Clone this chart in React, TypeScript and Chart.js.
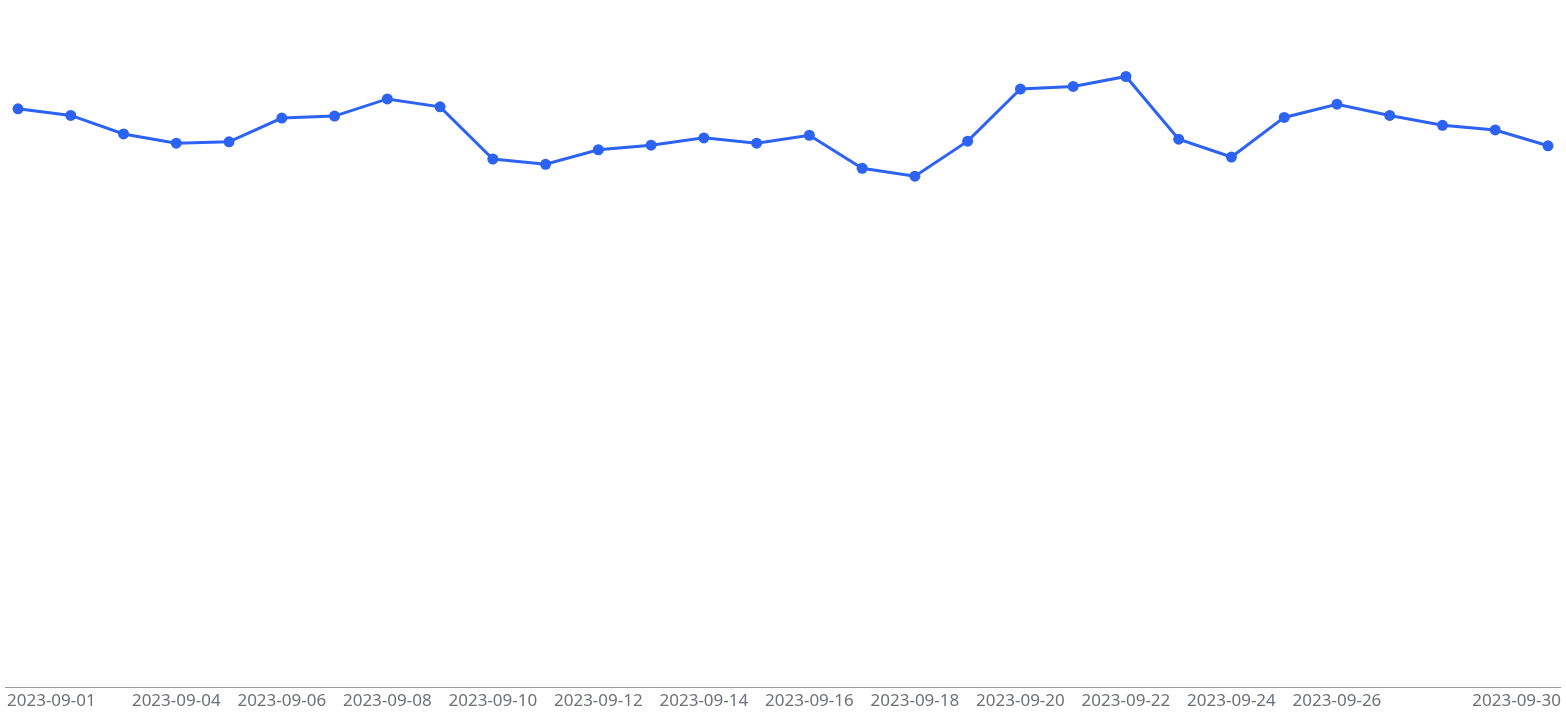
import React, { useEffect, useRef } from "react";
import { Chart, registerables } from "chart.js";

Chart.register(...registerables);

const dates: string[] = [
  "2023-09-01", "2023-09-02", "2023-09-03", "2023-09-04", "2023-09-05",
  "2023-09-06", "2023-09-07", "2023-09-08", "2023-09-09", "2023-09-10",
  "2023-09-11", "2023-09-12", "2023-09-13", "2023-09-14", "2023-09-15",
  "2023-09-16", "2023-09-17", "2023-09-18", "2023-09-19", "2023-09-20",
  "2023-09-21", "2023-09-22", "2023-09-23", "2023-09-24", "2023-09-25",
  "2023-09-26", "2023-09-27", "2023-09-28", "2023-09-29", "2023-09-30",
];

const values: number[] = [
  87.6, 86.6, 83.8, 82.4, 82.6, 86.2, 86.5, 89.1, 87.9, 80.0,
  79.2, 81.4, 82.1, 83.2, 82.4, 83.6, 78.6, 77.4, 82.7, 90.6,
  91.0, 92.5, 83.0, 80.3, 86.3, 88.3, 86.6, 85.1, 84.4, 82.0,
];

const shownTickLabels: string[] = [
  "2023-09-01", "2023-09-04", "2023-09-06", "2023-09-08", "2023-09-10",
  "2023-09-12", "2023-09-14", "2023-09-16", "2023-09-18", "2023-09-20",
  "2023-09-22", "2023-09-24", "2023-09-26", "2023-09-30",
];

const axisPlugin = {
  id: "customXAxis",
  afterDraw(chart: any) {
    const ctx = chart.ctx;
    const area = chart.chartArea;
    const xs = chart.scales.x;
    ctx.save();
    ctx.strokeStyle = "#9a9ca3";
    ctx.lineWidth = 1;
    ctx.beginPath();
    ctx.moveTo(5, area.bottom + 0.5);
    ctx.lineTo(1561, area.bottom + 0.5);
    ctx.stroke();

    ctx.font = "17px 'Noto Sans', 'Open Sans', sans-serif";
    ctx.fillStyle = "#6e7079";
    ctx.textBaseline = "top";
    ctx.textAlign = "left";
    const minX = 7;
    const maxX = 1561;
    shownTickLabels.forEach((lab) => {
      const i = dates.indexOf(lab);
      if (i < 0) return;
      const px = xs.getPixelForValue(i);
      const w = ctx.measureText(lab).width;
      let left = px - w / 2;
      if (left < minX) left = minX;
      if (left + w > maxX) left = maxX - w;
      ctx.fillText(lab, left, area.bottom + 6);
    });
    ctx.restore();
  },
};

export default function App() {
  const canvasRef = useRef<HTMLCanvasElement | null>(null);

  useEffect(() => {
    if (!canvasRef.current) return;
    const chart = new Chart(canvasRef.current, {
      type: "line",
      data: {
        labels: dates,
        datasets: [
          {
            data: values,
            borderColor: "#2d63f2",
            backgroundColor: "#2d63f2",
            borderWidth: 3,
            pointRadius: 5.5,
            pointBackgroundColor: "#2d63f2",
            pointBorderColor: "#2d63f2",
            pointBorderWidth: 0,
            tension: 0,
            fill: false,
            clip: false as any,
          },
        ],
      },
      options: {
        animation: false,
        responsive: true,
        maintainAspectRatio: false,
        layout: { padding: { left: 18, right: 18, top: 27, bottom: 33 } },
        plugins: { legend: { display: false }, tooltip: { enabled: false } },
        scales: {
          x: { display: false, offset: false },
          y: { display: false, min: 0, max: 100 },
        },
      },
      plugins: [axisPlugin],
    });
    return () => chart.destroy();
  }, []);

  return (
    <div style={{ position: "absolute", left: 0, top: 0, width: 1566, height: 720, background: "#ffffff" }}>
      <canvas ref={canvasRef} />
    </div>
  );
}
